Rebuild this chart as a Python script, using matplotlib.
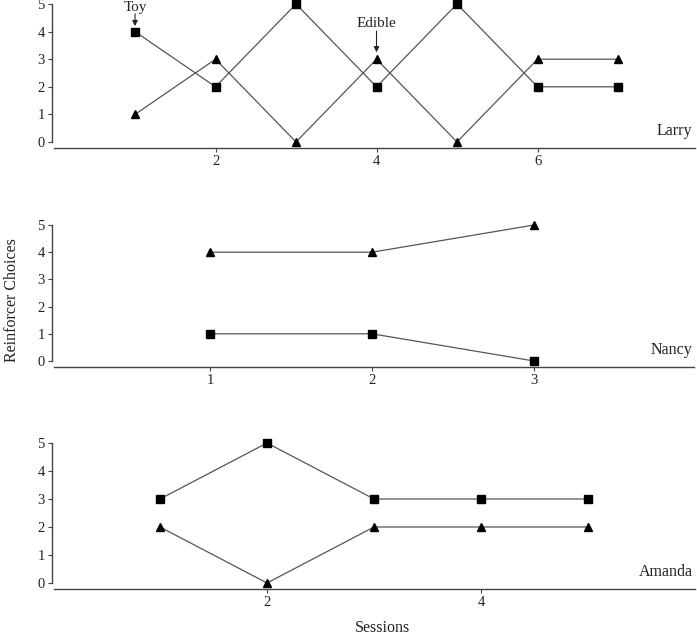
import matplotlib
matplotlib.use("Agg")
import matplotlib.pyplot as plt

plt.rcParams["font.family"] = ["Liberation Serif", "DejaVu Serif"]

# data: (sessions, toy = squares, edible = triangles)
larry_x = [1, 2, 3, 4, 5, 6, 7]
larry_toy = [4, 2, 5, 2, 5, 2, 2]
larry_edible = [1, 3, 0, 3, 0, 3, 3]

nancy_x = [1, 2, 3]
nancy_toy = [1, 1, 0]
nancy_edible = [4, 4, 5]

amanda_x = [1, 2, 3, 4, 5]
amanda_toy = [3, 5, 3, 3, 3]
amanda_edible = [2, 0, 2, 2, 2]

W, H = 697, 636
fig = plt.figure(figsize=(W / 100, H / 100), dpi=100)

LINE = "#555555"
def panel(rect, x, toy, edible, xlim, xticks, name):
    ax = fig.add_axes(rect)
    ax.plot(x, toy, color=LINE, lw=0.9, marker="s", ms=6, mfc="black",
            mec="black", clip_on=False, zorder=3)
    ax.plot(x, edible, color=LINE, lw=0.9, marker="^", ms=6, mfc="black",
            mec="black", clip_on=False, zorder=3)
    ax.set_xlim(*xlim)
    ax.set_ylim(0, 5)
    ax.set_xticks(xticks)
    ax.set_yticks(range(6))
    for s in ("top", "right"):
        ax.spines[s].set_visible(False)
    ax.spines["left"].set_position(("outward", 2))
    ax.spines["bottom"].set_position(("outward", 4))
    ax.spines["left"].set_bounds(0, 5)
    for s in ("left", "bottom"):
        ax.spines[s].set_color("#444444")
        ax.spines[s].set_linewidth(1.0)
    ax.tick_params(direction="out", length=3, width=0.8, color="#444444",
                   labelsize=10.5, pad=2, labelcolor="#222222")
    ax.text(0.997, 0.02, name, transform=ax.transAxes, ha="right",
            va="bottom", fontsize=11.5, color="#222222")
    return ax

def rect(y_top, y_zero):
    return [54.5 / W, 1 - y_zero / H, 640 / W, (y_zero - y_top) / H]

ax1 = panel(rect(4, 142), larry_x, larry_toy, larry_edible,
            (0, 7.95), [2, 4, 6], "Larry")
ax2 = panel(rect(225, 361), nancy_x, nancy_toy, nancy_edible,
            (0.04, 3.99), [1, 2, 3], "Nancy")
ax3 = panel(rect(443, 583), amanda_x, amanda_toy, amanda_edible,
            (0.014, 5.995), [2, 4], "Amanda")

# labels and arrows pointing at the first toy / edible choice
arrow = dict(arrowstyle="-|>", color="#222222", lw=0.8, mutation_scale=8,
             shrinkA=0, shrinkB=0)
ax1.text(1, 4.74, "Toy", ha="center", va="baseline", fontsize=11,
         color="#222222", clip_on=False)
ax1.annotate("", xy=(1, 4.2), xytext=(1, 4.64), arrowprops=arrow,
             annotation_clip=False)
ax1.text(4, 4.17, "Edible", ha="center", va="baseline", fontsize=11,
         color="#222222", clip_on=False)
ax1.annotate("", xy=(4, 3.25), xytext=(4, 4.02), arrowprops=arrow,
             annotation_clip=False)

fig.text(12 / W, 1 - 300 / H, "Reinforcer Choices", rotation=90,
         ha="center", va="center", fontsize=11.5, color="#222222")
fig.text(383 / W, 1 - 628 / H, "Sessions", ha="center", va="center",
         fontsize=11.5, color="#222222")

fig.savefig("out.png", dpi=100)
